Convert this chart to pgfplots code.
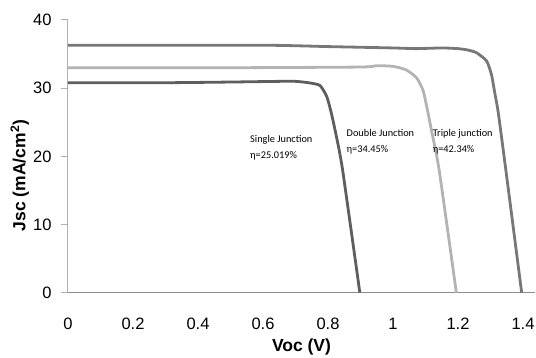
\documentclass[border=0pt]{standalone}
\usepackage{pgfplots}
\pgfplotsset{compat=1.18}
\usepackage{fontspec}
\setmainfont{Liberation Sans}
\newfontfamily\carlito{Carlito}
\definecolor{csingle}{HTML}{5E5E5E}
\definecolor{cdouble}{HTML}{B3B3B3}
\definecolor{ctriple}{HTML}{777777}
\definecolor{axgray}{HTML}{B0B0B0}
\definecolor{xaxgray}{HTML}{8C8C8C}
\begin{document}
\begin{tikzpicture}
\begin{axis}[
  scale only axis,
  width=467pt, height=272.7pt,
  xmin=0, xmax=1.437, ymin=0, ymax=40,
  axis lines*=left,
  x axis line style={xaxgray, line width=1pt},
  y axis line style={axgray, line width=1pt},
  xtick={0,0.2,...,1.4},
  ytick={0,10,...,40},
  xticklabels={0,0.2,0.4,0.6,0.8,1,1.2,1.4},
  xtick style={draw=none},
  ytick style={axgray, line width=1pt},
  tick align=outside,
  major tick length=7pt,
  /pgf/number format/assume math mode=true,
  tick label style={font=\fontsize{16.5}{18}\selectfont},
  xticklabel style={yshift=-15pt},
  yticklabel style={xshift=-6pt},
  xlabel={\bfseries Voc (V)},
  ylabel={\bfseries Jsc (mA/cm\textsuperscript{2})},
  label style={font=\fontsize{17.5}{19}\selectfont, inner sep=0pt},
  xlabel style={at={(axis description cs:0.5,-0.199)}, anchor=center},
  ylabel style={at={(axis description cs:-0.103,0.43)}, anchor=center},
  clip=false,
]
\coordinate (bbll) at ([xshift=-68pt,yshift=-65.3pt]rel axis cs:0,0);
\coordinate (bbur) at ([xshift=1pt,yshift=20pt]rel axis cs:1,1);
\addplot[ctriple, line width=2.8pt, smooth, tension=0.35] coordinates {
(0,36.3)(0.6,36.3)(0.8,36.1)(1.0,35.9)(1.07,35.8)(1.15,35.9)(1.2,35.8)(1.23,35.6)(1.257,35.2)(1.288,34.0)(1.303,32.0)(1.314,29.1)(1.324,26.4)(1.35,17)(1.396,0)};
\addplot[cdouble, line width=2.8pt, smooth, tension=0.35] coordinates {
(0,33.0)(0.5,33.0)(0.9,33.1)(0.95,33.3)(1.0,33.2)(1.04,32.7)(1.073,31.5)(1.093,29.6)(1.109,26.1)(1.118,23.9)(1.142,18)(1.195,0)};
\addplot[csingle, line width=2.8pt, smooth, tension=0.35] coordinates {
(0,30.8)(0.3,30.8)(0.5,30.9)(0.65,31.0)(0.70,31.0)(0.74,30.8)(0.775,30.4)(0.796,28.8)(0.81,26.4)(0.826,22.9)(0.845,18)(0.898,0)};
\node[anchor=west, font=\carlito\fontsize{10.3}{11}\selectfont, align=left, inner sep=0pt] at (axis cs:0.56,21.3) {Single Junction\\[5pt]η=25.019\%};
\node[anchor=west, font=\carlito\fontsize{10.3}{11}\selectfont, align=left, inner sep=0pt] at (axis cs:0.857,22.2) {Double Junction\\[5pt]η=34.45\%};
\node[anchor=west, font=\carlito\fontsize{10.3}{11}\selectfont, align=left, inner sep=0pt] at (axis cs:1.122,22.2) {Triple junction\\[5pt]η=42.34\%};
\end{axis}
\pgfresetboundingbox
\path[use as bounding box] (bbll) rectangle (bbur);
\end{tikzpicture}
\end{document}
